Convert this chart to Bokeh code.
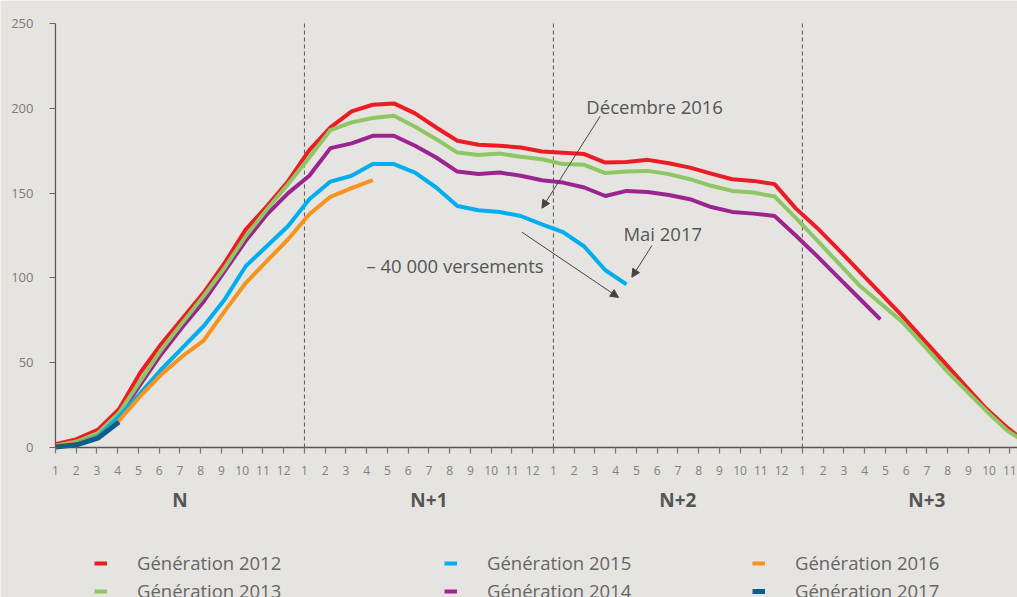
from bokeh.plotting import figure
from bokeh.models import (Range1d, LinearAxis, FixedTicker, CustomJSTickFormatter,
                          Arrow, NormalHead, Label, Legend, LegendItem)
from bokeh.embed import file_html
from bokeh.resources import INLINE

# ---------------- data (monthly index 0 = month 1 of year N) ----------------
gen_2012 = [2, 4.9, 10.4, 22.6, 43.9, 61, 76, 91.2, 108.9, 128.6, 142.4, 157,
            175.4, 188.7, 198.2, 202.1, 202.9, 197, 188.7, 180.9, 178.5, 177.9, 176.9, 174.5,
            173.8, 173, 168, 168.4, 169.6, 167.6, 165, 161.5, 158.2, 157.2, 155.3,
            141, 129.6, 117, 104, 91, 78, 64.2, 50.5, 36.7, 23, 11.7, 2]
gen_2013 = [1, 3.5, 8.5, 20.3, 39, 57.7, 73.5, 89.2, 106, 124.7, 140.5, 155.3,
            171, 187.2, 191.7, 194.3, 195.6, 189.1, 181.8, 173.9, 172.4, 173.3, 171.4, 170,
            167.1, 166.7, 161.8, 162.7, 163.1, 161.2, 158.2, 154.3, 151.3, 150.3, 148,
            135.4, 122.3, 109, 95.7, 85, 74.5, 61, 47, 34.3, 21.7, 10, 2]
gen_2014 = [1, 3, 7.5, 19, 37, 55, 71, 86, 104, 122, 137.5, 150,
            160.2, 176.5, 179.3, 183.8, 183.8, 177.9, 171, 162.7, 161.2, 162.1, 160.2, 157.6,
            156.2, 153.3, 148.3, 151.3, 150.7, 148.9, 146.4, 141.8, 138.9, 137.9, 136.5,
            125, 113, 100.5, 88, 75.5]
gen_2015 = [0.6, 2.5, 6.5, 18.3, 32, 46, 58.7, 71.5, 87.3, 107, 118.8, 130.6,
            146.4, 156.8, 160.2, 167.1, 167.1, 162.1, 153.3, 142.4, 139.9, 138.9, 136.5, 131.5,
            127, 118.5, 104.5, 96.2]
gen_2016 = [1, 2.5, 6, 15.8, 30.1, 43, 53.8, 63, 80.4, 97.1, 110, 122.8,
            137.5, 147.8, 152.9, 157.6]
gen_2017 = [0.3, 1.6, 5.5, 15]

series_names = ["Génération 2012", "Génération 2013", "Génération 2014",
                "Génération 2015", "Génération 2016", "Génération 2017"]
y_ticks = [0, 50, 100, 150, 200, 250]
year_labels = ["N", "N+1", "N+2", "N+3"]

# ---------------- styling / layout constants ----------------
BG = "#e5e4e1"
COLORS = {
    "Génération 2012": "#ed1c24",
    "Génération 2013": "#8dc663",
    "Génération 2014": "#9b2490",
    "Génération 2015": "#00aeef",
    "Génération 2016": "#f7941d",
    "Génération 2017": "#0f5d8b",
}
FONT = "Open Sans"
R = 0.9809                 # axis month spacing relative to data point spacing
W, H = 1017, 597
AXIS_X_PX, TOP_PX, ZERO_PX = 55, 23, 447
Y_MAX = 250
PX_PER_Y = (ZERO_PX - TOP_PX) / Y_MAX
PX_PER_X = 21.15
X_START = -AXIS_X_PX / PX_PER_X
X_END = (W - AXIS_X_PX) / PX_PER_X
Y_START = -(H - ZERO_PX) / PX_PER_Y
Y_END = Y_MAX + TOP_PX / PX_PER_Y

p = figure(width=W, height=H, output_backend="svg", toolbar_location=None,
           x_range=Range1d(X_START, X_END), y_range=Range1d(Y_START, Y_END),
           x_axis_location=None, y_axis_location=None, min_border=0,
           background_fill_color=BG, border_fill_color=BG, outline_line_color=None)
p.grid.visible = False

# y axis (drawn at x = 0, only between 0 and 250)
yaxis = LinearAxis(ticker=FixedTicker(ticks=y_ticks), bounds=(0, Y_MAX), fixed_location=0,
                   axis_line_color="#555555", axis_line_width=1.2,
                   major_tick_line_color="#666666", major_tick_out=6, major_tick_in=0,
                   minor_tick_line_color=None, major_label_standoff=16,
                   major_label_text_font=FONT, major_label_text_font_size="13px",
                   major_label_text_color="#7a7a7a")
p.add_layout(yaxis, "left")

# x axis (months), drawn at y = 0
xaxis = LinearAxis(ticker=FixedTicker(ticks=[k * R for k in range(47)]),
                   formatter=CustomJSTickFormatter(
                       code=f"return String(Math.round(tick / {R}) % 12 + 1);"),
                   fixed_location=0, bounds=(0, X_END),
                   axis_line_color="#555555", axis_line_width=1.5,
                   major_tick_line_color="#7a7a7a", major_tick_line_width=1.3,
                   major_tick_out=6, major_tick_in=0, minor_tick_line_color=None,
                   major_label_standoff=12, major_label_text_font=FONT,
                   major_label_text_font_size="12px", major_label_text_color="#808080")
p.add_layout(xaxis, "below")

# second x axis: year groups
year_axis = LinearAxis(
    ticker=FixedTicker(ticks=[(6 + 12 * j) * R for j in range(len(year_labels))]),
    formatter=CustomJSTickFormatter(
        code="const k = Math.round(tick / %s); return %s[Math.floor(k / 12)];"
        % (R, str(year_labels))),
    fixed_location=0,
    axis_line_color=None, major_tick_line_color=None, minor_tick_line_color=None,
    major_label_standoff=33, major_label_text_font=FONT,
    major_label_text_font_size="19px", major_label_text_font_style="bold",
    major_label_text_color="#555555")
p.add_layout(year_axis, "below")

# year separators (dashed, from 0 to 250)
sep_x = [12 * j * R for j in (1, 2, 3)]
p.segment(x0=sep_x, y0=[0] * 3, x1=sep_x, y1=[Y_MAX] * 3,
          line_color="#555555", line_width=1, line_dash="4 3")

# lines
draw_order = [("Génération 2014", gen_2014), ("Génération 2012", gen_2012),
              ("Génération 2013", gen_2013), ("Génération 2015", gen_2015),
              ("Génération 2016", gen_2016), ("Génération 2017", gen_2017)]
renderers = {}
for name, ys in draw_order:
    renderers[name] = p.line(list(range(len(ys))), ys, line_color=COLORS[name],
                             line_width=5 if name.endswith("2017") else 4,
                             line_join="round")

# annotations
ANN = "#555555"
AFS = "18.5px"
p.add_layout(Label(x=25.1, y=201, text="Décembre 2016", text_font=FONT,
                   text_font_size=AFS, text_color=ANN, text_baseline="middle"))
p.add_layout(Label(x=26.85, y=126, text="Mai 2017", text_font=FONT,
                   text_font_size=AFS, text_color=ANN, text_baseline="middle"))
p.add_layout(Label(x=14.7, y=107.3, text="\u2013 40 000 versements", text_font=FONT,
                   text_font_size=AFS, text_color=ANN, text_baseline="middle"))
for (x0, y0, x1, y1) in [(25.75, 195.3, 23.0, 141.1),
                         (28.2, 119.1, 27.25, 100.4),
                         (22.05, 127.0, 26.62, 88.5)]:
    p.add_layout(Arrow(x_start=x0, y_start=y0, x_end=x1, y_end=y1,
                       line_color="#444444", line_width=1,
                       end=NormalHead(size=8, fill_color="#444444", line_color="#444444")))

# legend: three columns of two entries, below the axes
legend_columns = [(94, ["Génération 2012", "Génération 2013"]),
                  (444, ["Génération 2015", "Génération 2014"]),
                  (752, ["Génération 2016", "Génération 2017"])]
for x_loc, names in legend_columns:
    leg = Legend(items=[LegendItem(label=n, renderers=[renderers[n]]) for n in names],
                 location=(x_loc, -6.5), orientation="vertical",
                 glyph_width=13, glyph_height=26, label_height=26, label_standoff=30,
                 spacing=2, padding=0, margin=0,
                 label_text_font=FONT, label_text_font_size="18.5px",
                 label_text_color="#666666", border_line_color=None,
                 background_fill_alpha=0)
    p.add_layout(leg, "center")

open("out.html", "w").write(file_html(p, INLINE))
